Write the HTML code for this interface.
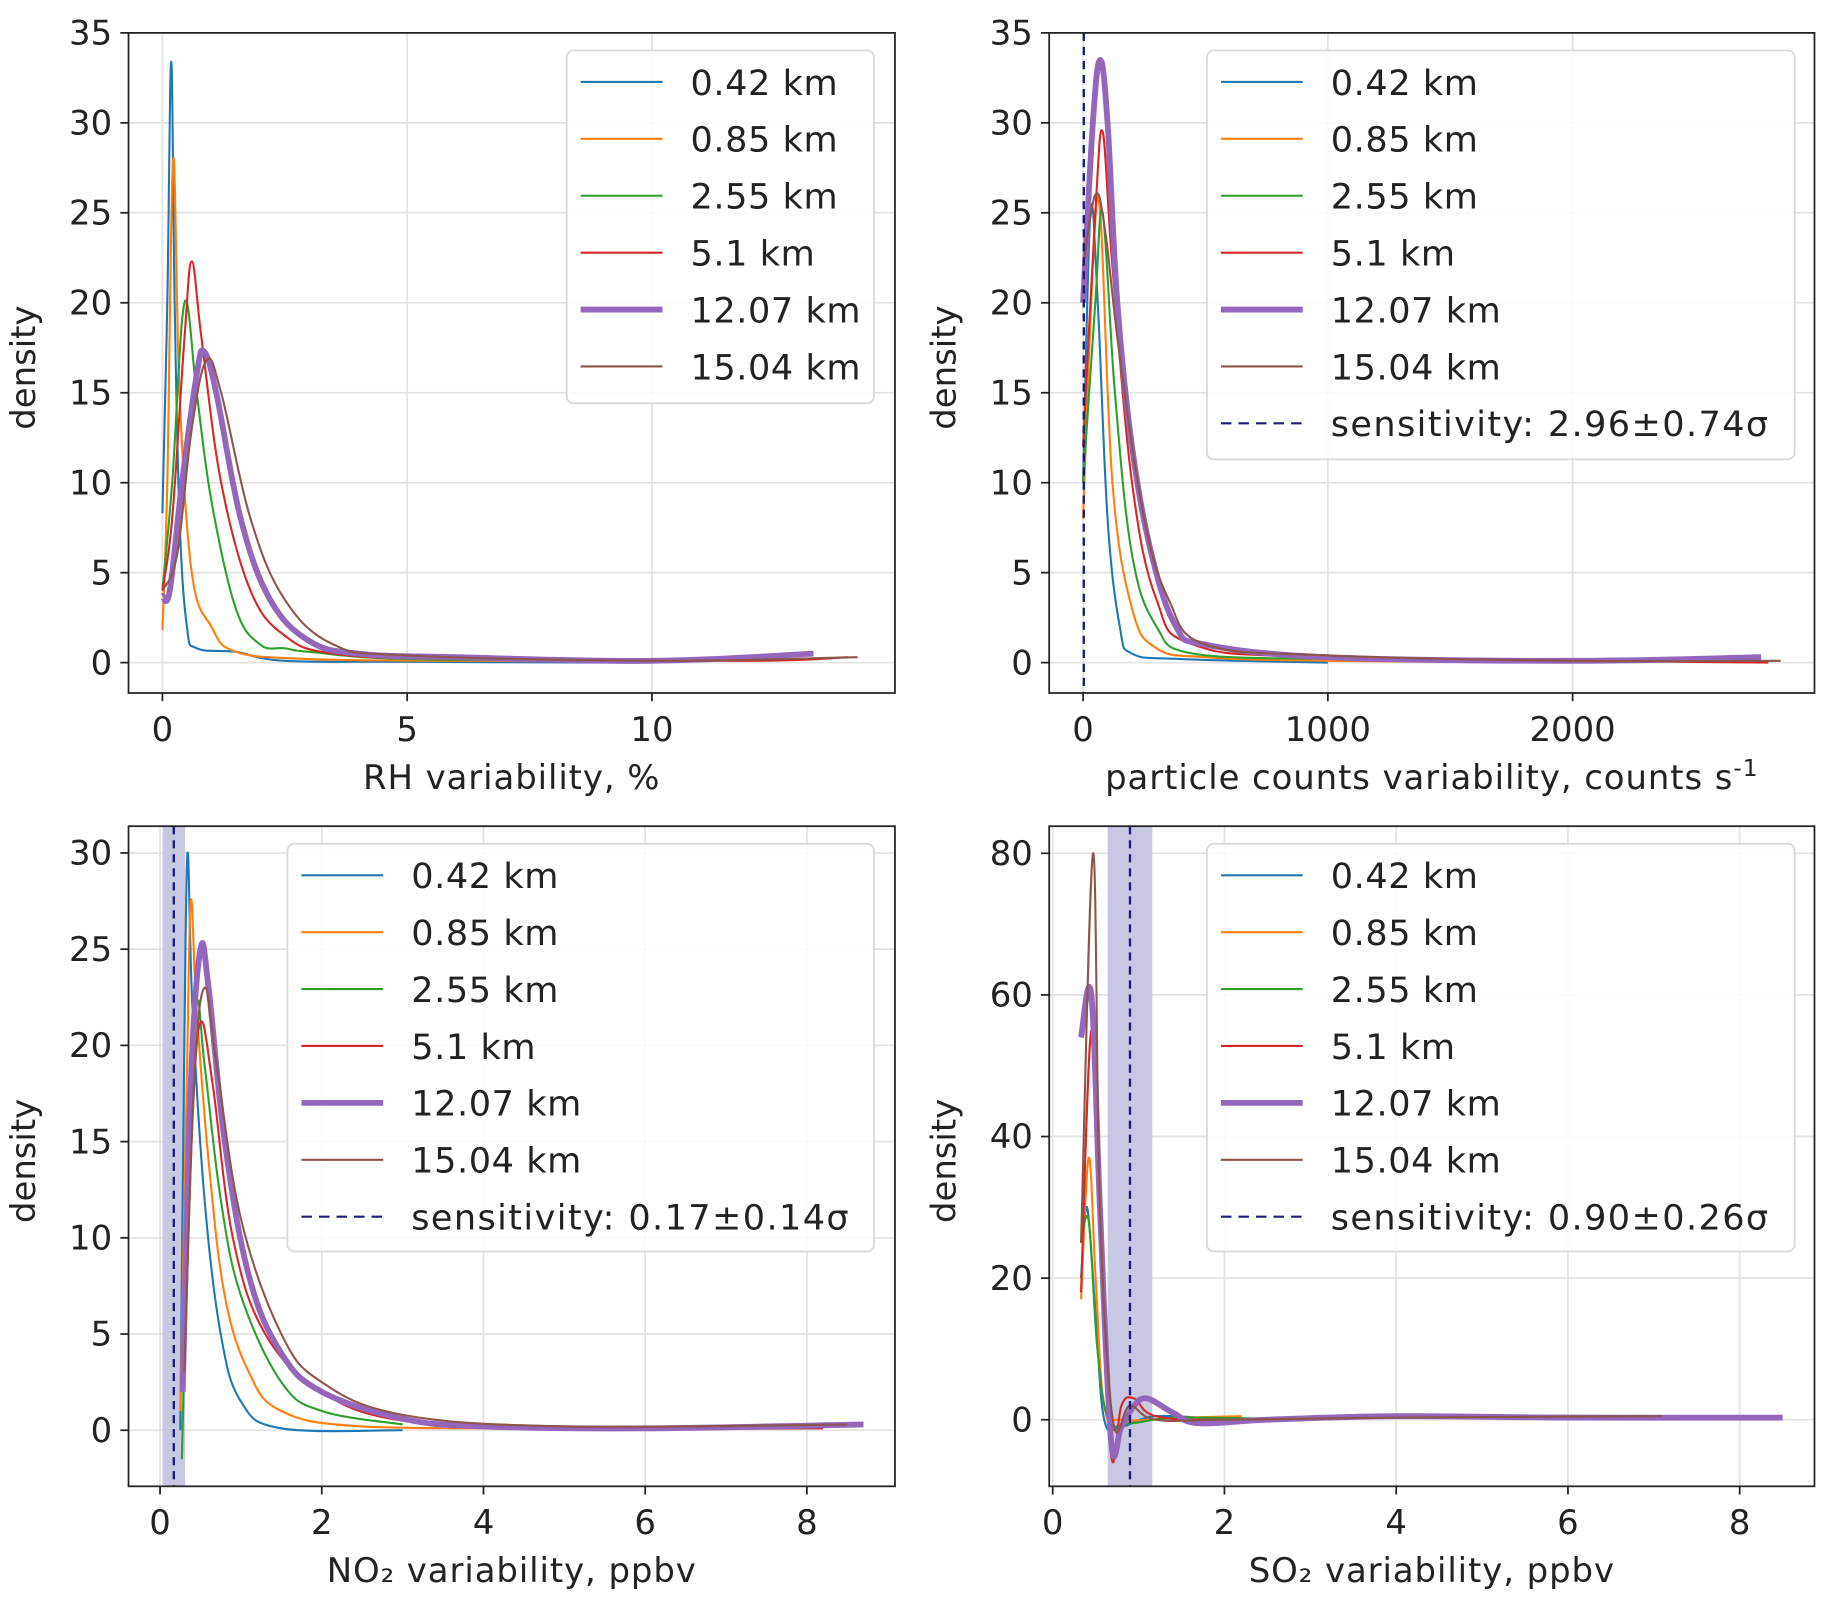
<!DOCTYPE html>
<html><head><meta charset="utf-8"><style>
html,body{margin:0;padding:0;background:#fff}
svg{display:block}
text{font-family:"DejaVu Sans","Liberation Sans",sans-serif;fill:#222}
</style></head><body>
<svg id="fig" width="1832" height="1608" viewBox="0 0 1568 1376" xmlns="http://www.w3.org/2000/svg"></svg>
<script>
const seriesNames = ["0.42 km","0.85 km","2.55 km","5.1 km","12.07 km","15.04 km"];
const seriesColors = ["#1f77b4","#ff7f0e","#2ca02c","#d62728","#9467bd","#8c564b"];
// Panel 1: RH variability
const rhBlue = [[0,8.3],[0.1,20],[0.18,33.4],[0.25,20],[0.35,8],[0.5,2],[0.7,0.8],[1.5,0.6],[2.5,0.1],[5,0.05],[9,0]];
const rhOrange = [[0,1.8],[0.1,10],[0.22,28],[0.35,15],[0.6,5],[1,2],[1.5,0.6],[3,0.2],[6,0.1],[10,0.05]];
const rhGreen = [[0,4],[0.2,10],[0.45,20],[0.7,15],[1,9],[1.5,3],[2,1],[2.5,0.8],[3,0.6],[5,0.2],[10,0.1]];
const rhRed = [[0,4],[0.2,8],[0.45,18],[0.6,22.3],[0.8,18],[1.2,10],[1.8,4],[2.5,1.5],[3.5,0.5],[6,0.2],[12,0.1],[14,0.3]];
const rhPurple = [[0,3.7],[0.15,4],[0.4,10],[0.7,16],[0.85,17.3],[1.1,15],[1.6,8],[2.2,3.5],[3,1.2],[4,0.5],[6,0.3],[10,0.1],[13.3,0.5]];
const rhBrown = [[0,4],[0.3,6],[0.6,13],[0.9,16.8],[1.2,15],[1.8,8],[2.5,3.5],[3.5,1],[5,0.4],[10,0.1],[14.2,0.3]];
// Panel 2: particle counts
const pcBlue = [[0,10],[30,25],[60,20],[100,8],[150,2],[200,0.5],[400,0.2],[1000,0]];
const pcOrange = [[0,8],[40,22],[70,25],[120,10],[200,3],[300,0.8],[500,0.3],[1000,0.1],[2000,0]];
const pcGreen = [[0,10],[50,20],[80,25],[130,15],[200,6],[300,2],[450,0.5],[1000,0.2]];
const pcRed = [[0,12],[50,25],[80,29.5],[120,22],[200,10],[300,3.5],[450,1],[1000,0.3],[2800,0]];
const pcPurple = [[0,20],[40,30],[70,33.5],[100,30],[140,20],[200,12],[280,6],[380,2],[500,1],[1000,0.3],[2000,0.1],[2770,0.3]];
const pcBrown = [[0,22],[50,26],[90,24],[150,17],[250,8],[350,3.5],[500,1],[1000,0.4],[2000,0.1],[2850,0.1]];
// Panel 3: NO2
const noBlue = [[0.25,0],[0.3,20],[0.34,30],[0.4,22],[0.55,12],[0.75,5],[1,1.5],[1.5,0.1],[3,0]];
const noOrange = [[0.25,1],[0.33,18],[0.38,27.5],[0.45,22],[0.6,14],[0.8,7],[1.1,3],[1.5,1],[2.5,0.2],[5,0.1]];
const noGreen = [[0.27,-1.5],[0.35,12],[0.45,22],[0.55,19],[0.75,12],[1,7],[1.5,2.5],[2,1],[3,0.3]];
const noRed = [[0.3,3],[0.4,16],[0.5,21.2],[0.65,18],[0.9,10],[1.3,5],[2,2],[3,0.5],[5,0.1],[8.2,0.1]];
const noPurple = [[0.28,2],[0.38,18],[0.5,25],[0.6,23],[0.8,15],[1.1,8],[1.5,4],[2,2],[3,0.6],[4,0.2],[6,0.1],[8.7,0.3]];
const noBrown = [[0.3,3],[0.42,18],[0.55,23],[0.7,19],[1,11],[1.5,5],[2,2.5],[3,0.8],[5,0.2],[8.5,0.3]];
// Panel 4: SO2
const soBlue = [[0.33,20],[0.4,30],[0.5,15],[0.6,0],[0.8,-1],[1.2,0.5],[2,0]];
const soOrange = [[0.33,17],[0.42,37],[0.5,20],[0.6,2],[0.8,0],[1.5,0.3],[2.2,0.5]];
const soGreen = [[0.33,25],[0.42,28],[0.52,10],[0.65,0],[0.9,-0.5],[1.5,0.3],[3,0]];
const soRed = [[0.33,18],[0.45,55],[0.55,25],[0.68,-5],[0.8,2],[0.95,3],[1.2,0.5],[2,0],[4,0.5],[7,0.5]];
const soPurple = [[0.33,54],[0.45,60],[0.55,30],[0.68,-3],[0.8,-1],[0.95,2],[1.1,3],[1.4,1],[1.7,-0.5],[2.5,0],[4,0.5],[6,0.3],[8.5,0.3]];
const soBrown = [[0.33,25],[0.47,80],[0.55,30],[0.7,0],[0.9,2],[1.2,0],[2,0],[4,0.3],[7.1,0.5]];
// Sensitivity
const no2Sens = [0.17, 0.14];
const so2Sens = [0.90, 0.26];
const pcSens = [2.96, 0.74];

const NS="http://www.w3.org/2000/svg";
const fig=document.getElementById('fig');
function el(t,a,p){const e=document.createElementNS(NS,t);for(const k in a)e.setAttribute(k,a[k]);(p||fig).appendChild(e);return e;}
function spline(pts){let d="M"+pts[0][0]+","+pts[0][1];for(let i=0;i<pts.length-1;i++){const p0=pts[i-1]||pts[i],p1=pts[i],p2=pts[i+1],p3=pts[i+2]||p2;const t=0.18;
d+=" C"+(p1[0]+(p2[0]-p0[0])*t)+","+(p1[1]+(p2[1]-p0[1])*t)+" "+(p2[0]-(p3[0]-p1[0])*t)+","+(p2[1]-(p3[1]-p1[1])*t)+" "+p2[0]+","+p2[1];}return d;}

const panels=[
 {id:"rh",box:[110,28,766,593],x0:[0,139],xs:41.9,y0:[0,567],ys:15.4,xt:[0,5,10],xtl:["0","5","10"],yt:[0,5,10,15,20,25,30,35],xlab:"RH variability, %",
  data:[rhBlue,rhOrange,rhGreen,rhRed,rhPurple,rhBrown],leg:[485,43,748,345],sens:null},
 {id:"pc",box:[898,28,1553,593],x0:[0,927],xs:0.2095,y0:[0,567],ys:15.4,xt:[0,1000,2000],xtl:["0","1000","2000"],yt:[0,5,10,15,20,25,30,35],xlab:"particle counts variability, counts s",sup:"-1",
  data:[pcBlue,pcOrange,pcGreen,pcRed,pcPurple,pcBrown],leg:[1033,43,1536,393],sens:pcSens,band:false,senslab:"sensitivity: 2.96±0.74σ"},
 {id:"no2",box:[110,707,766,1272],x0:[0,137],xs:69.2,y0:[0,1224],ys:16.47,xt:[0,2,4,6,8],xtl:["0","2","4","6","8"],yt:[0,5,10,15,20,25,30],xlab:"NO₂ variability, ppbv",
  data:[noBlue,noOrange,noGreen,noRed,noPurple,noBrown],leg:[246,722,748,1071],sens:no2Sens,band:true,senslab:"sensitivity: 0.17±0.14σ"},
 {id:"so2",box:[898,707,1553,1272],x0:[0,901],xs:73.5,y0:[0,1215],ys:6.06,xt:[0,2,4,6,8],xtl:["0","2","4","6","8"],yt:[0,20,40,60,80],xlab:"SO₂ variability, ppbv",
  data:[soBlue,soOrange,soGreen,soRed,soPurple,soBrown],leg:[1033,722,1536,1071],sens:so2Sens,band:true,senslab:"sensitivity: 0.90±0.26σ"}
];
panels.forEach((P,pi)=>{
 const g=el('g',{});
 
 
 const [L,T,R,B]=P.box;
 const X=v=>P.x0[1]+(v-P.x0[0])*P.xs, Y=v=>P.y0[1]-(v-P.y0[0])*P.ys;
 const cp=el('clipPath',{id:'c'+pi},g);el('rect',{x:L,y:T,width:R-L,height:B-T},cp);
 P.xt.forEach((t,i)=>{const l=el('line',{x1:X(t),x2:X(t),y1:T,y2:B,stroke:"#e3e3e3","stroke-width":1.5},g);
  el('line',{x1:X(t),x2:X(t),y1:B,y2:B+7,stroke:"#222","stroke-width":1.5},g);
  const tx=el('text',{x:X(t),y:B+41,"font-size":29,"text-anchor":"middle"},g);tx.textContent=P.xtl[i];});
 P.yt.forEach(t=>{const l=el('line',{x1:L,x2:R,y1:Y(t),y2:Y(t),stroke:"#e3e3e3","stroke-width":1.5},g);
  el('line',{x1:L-7,x2:L,y1:Y(t),y2:Y(t),stroke:"#222","stroke-width":1.5},g);
  const tx=el('text',{x:L-14,y:Y(t)+10,"font-size":29,"text-anchor":"end"},g);tx.textContent=t;});
 const cg=el('g',{"clip-path":"url(#c"+pi+")"},g);
 if(P.sens&&P.band){const b=el('rect',{x:X(P.sens[0]-P.sens[1]),y:T,width:2*P.sens[1]*P.xs,height:B-T,fill:"#c8c8e2"},cg);}
 P.data.forEach((d,si)=>{const p=el('path',{d:spline(d.map(q=>[X(q[0]),Y(q[1])])),fill:"none",stroke:seriesColors[si],"stroke-width":si==4?5:1.8,"stroke-linejoin":"round"},cg);
  });
 if(P.sens){const s=el('line',{x1:X(P.sens[0]),x2:X(P.sens[0]),y1:T,y2:B,stroke:"#1c1c78","stroke-width":2,"stroke-dasharray":"7,5"},cg);}
 const fr=el('rect',{x:L,y:T,width:R-L,height:B-T,fill:"none",stroke:"#222","stroke-width":1.5},g);
 const [lx,ly,lr,lb]=P.leg;const lg=el('g',{},g);
 el('rect',{x:lx,y:ly,width:lr-lx,height:lb-ly,rx:6,fill:"#fff","fill-opacity":0.85,stroke:"#d8d8d8","stroke-width":1.5},lg);
 const rows=seriesNames.slice();if(P.sens)rows.push(P.senslab);
 rows.forEach((n,i)=>{const y=ly+27+i*48.7;
  const ln=el('line',{x1:lx+12,x2:lx+82,y1:y,y2:y,stroke:i<6?seriesColors[i]:"#1c1c78","stroke-width":i==4?5:1.8,"stroke-dasharray":i==6?"9,6":"none"},lg);
  const t=el('text',{x:lx+106,y:y+11,"font-size":30,"letter-spacing":(i==6?1.2:0.5)},lg);t.textContent=n;});
 const xl=el('text',{x:(L+R)/2,y:B+82,"font-size":29,"letter-spacing":0.8,"text-anchor":"middle"},g);xl.textContent=P.xlab;
 if(P.sup){const s=el('tspan',{dy:-11,"font-size":20},xl);s.textContent=P.sup;}
 const cy=(T+B)/2+4;const yl=el('text',{x:0,y:0,"font-size":29,"text-anchor":"middle",transform:"translate("+(L-80)+","+cy+") rotate(-90)"},g);yl.textContent="density";
});
</script>
</body></html>
